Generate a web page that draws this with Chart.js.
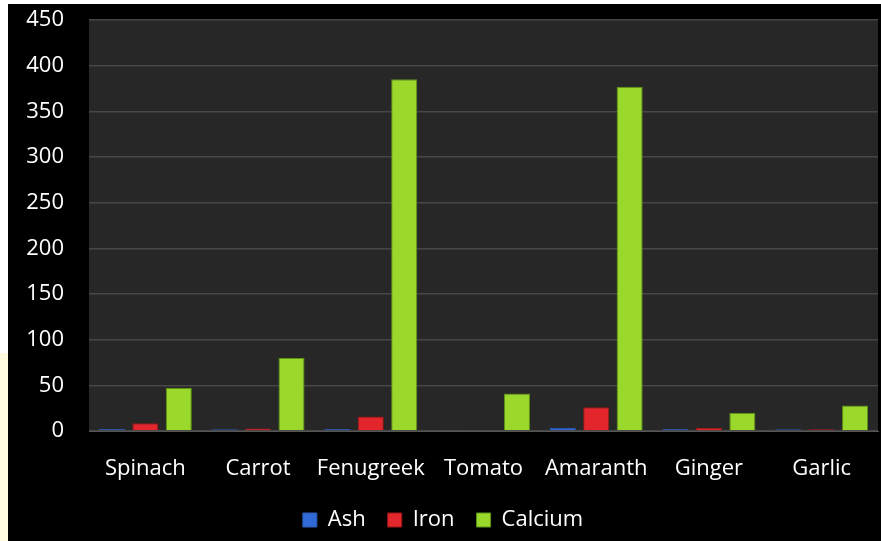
<!DOCTYPE html>
<html>
<head>
<meta charset="utf-8">
<script src="https://cdn.jsdelivr.net/npm/chart.js@4.4.1/dist/chart.umd.min.js"></script>
<style>
html, body { margin: 0; padding: 0; background: #fff; }
#strip { position: absolute; left: 0; top: 353px; width: 8px; height: 188px; background: #fffbe1; }
#wrap { position: absolute; left: 8px; top: 4px; width: 873px; height: 537px; background: #000; }
</style>
</head>
<body>
<div id="strip"></div>
<div id="wrap"><canvas id="myChart" width="873" height="537"></canvas></div>
<script>
var categories = ["Spinach", "Carrot", "Fenugreek", "Tomato", "Amaranth", "Ginger", "Garlic"];
var ashValues = [2.2, 2, 2.2, 1.2, 3.6, 2.2, 2];
var ironValues = [8.5, 2.8, 16, 0.8, 26, 3.5, 2];
var calciumValues = [47, 80, 385, 41, 377, 20, 28];
var yMax = 450;
var yStep = 50;

var fontFamily = "'Open Sans', sans-serif";

// dark plot background behind the bars
var plotBg = {
    id: 'plotBg',
    beforeDraw: function(chart) {
        var a = chart.chartArea;
        var c = chart.ctx;
        c.save();
        c.fillStyle = '#272727';
        c.fillRect(a.left, a.top, a.right - a.left, a.bottom - a.top);
        c.restore();
    }
};

var myChart = new Chart(document.getElementById("myChart"), {
    type: 'bar',
    data: {
        labels: categories,
        datasets: [
            {
                label: "Ash",
                data: ashValues,
                backgroundColor: "#2f6ad6",
                borderColor: "#2a5cb8",
                borderWidth: 1
            },
            {
                label: "Iron",
                data: ironValues,
                backgroundColor: "#e3262b",
                borderColor: "#9a1616",
                borderWidth: 1
            },
            {
                label: "Calcium",
                data: calciumValues,
                backgroundColor: "#9ad82c",
                borderColor: "#5f9416",
                borderWidth: 1
            }
        ]
    },
    options: {
        responsive: false,
        animation: false,
        layout: { padding: { left: 0, right: 3, top: 16, bottom: 0 } },
        datasets: {
            bar: { categoryPercentage: 0.89, barPercentage: 0.78 }
        },
        scales: {
            x: {
                grid: { display: false, drawTicks: false },
                border: { display: true, color: '#555555', width: 1 },
                ticks: {
                    color: '#ffffff',
                    padding: 25,
                    maxRotation: 0,
                    minRotation: 0,
                    autoSkip: false,
                    font: { family: fontFamily, size: 22 }
                },
                afterFit: function(s) { s.height = 56; s.paddingLeft = 0; s.paddingRight = 0; }
            },
            y: {
                min: 0,
                max: yMax,
                grid: { color: '#474747', lineWidth: 1.5, drawTicks: false },
                border: { display: false },
                ticks: {
                    stepSize: yStep,
                    color: '#ffffff',
                    padding: 25,
                    font: { family: fontFamily, size: 22 }
                },
                afterFit: function(s) { s.width = 81; s.paddingTop = 0; s.paddingBottom = 0; }
            }
        },
        plugins: {
            legend: {
                position: 'bottom',
                labels: {
                    color: '#ffffff',
                    boxWidth: 14,
                    boxHeight: 14,
                    padding: 22,
                    font: { family: fontFamily, size: 22 }
                }
            },
            tooltip: { enabled: false }
        }
    },
    plugins: [plotBg]
});
</script>
</body>
</html>
